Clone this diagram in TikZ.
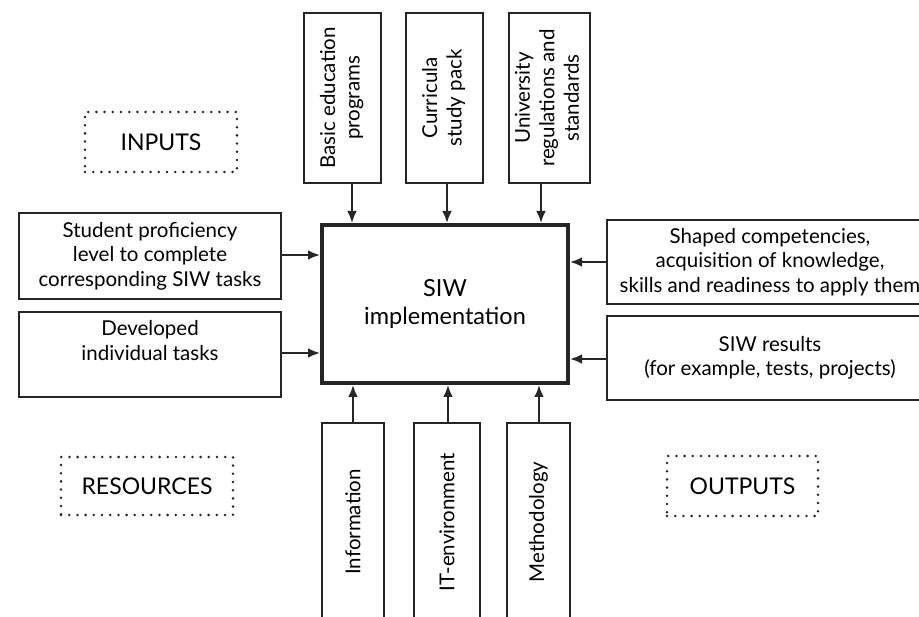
\documentclass[tikz,border=0pt]{standalone}
\usepackage{fontspec}
\setmainfont{Lato}
\usetikzlibrary{arrows.meta}
\begin{document}
\begin{tikzpicture}[x=1pt,y=-1pt,
  box/.style={draw=black!85,line width=2.7pt,inner sep=0pt,align=center,font=\fontsize{20.5}{24.5}\selectfont},
  mainbox/.style={draw=black!85,line width=4pt,inner sep=0pt,align=center,font=\fontsize{23.5}{28}\selectfont},
  dotbox/.style={draw=black!85,line width=2.8pt,line cap=round,dash pattern=on 0pt off 8.2pt,inner sep=0pt,font=\fontsize{23}{26}\selectfont},
  arr/.style={draw=black!85,line width=2.6pt,-{Latex[length=12pt,width=10pt]}}]
\useasboundingbox (0,0) rectangle (919,617);
\clip (0,0) rectangle (919,617);
% main
\node[mainbox,minimum width=246pt,minimum height=158pt] (main) at (445,304) {SIW\\implementation};
% top boxes
\node[box,minimum width=77pt,minimum height=170pt] (t1) at (342.5,98) {\rotatebox{90}{\begin{tabular}{@{}c@{}}Basic education\\programs\end{tabular}}};
\node[box,minimum width=77pt,minimum height=170pt] (t2) at (444.5,98) {\rotatebox{90}{\begin{tabular}{@{}c@{}}Curricula\\study pack\end{tabular}}};
\node[box,minimum width=81pt,minimum height=170pt] (t3) at (549.5,98) {\rotatebox{90}{\begin{tabular}{@{}c@{}}University\\regulations and\\standards\end{tabular}}};
% left boxes
\node[box,minimum width=262pt,minimum height=86pt] (l1) at (150,256) {Student proficiency\\level to complete\\corresponding SIW tasks};
\node[box,minimum width=262pt,minimum height=85pt] (l2) at (150,354.5) {Developed\\individual tasks\\[4pt]};
% right boxes
\node[box,minimum width=326pt,minimum height=84pt] (r1) at (770,262) {Shaped competencies,\\acquisition of knowledge,\\skills and readiness to apply them};
\node[box,minimum width=326pt,minimum height=84pt] (r2) at (770,358) {SIW results\\(for example, tests, projects)};
% bottom boxes
\node[box,minimum width=62pt,minimum height=198pt] (b1) at (353,522) {\rotatebox{90}{Information}};
\node[box,minimum width=66pt,minimum height=198pt] (b2) at (447,522) {\rotatebox{90}{IT-environment}};
\node[box,minimum width=63pt,minimum height=198pt] (b3) at (538.5,522) {\rotatebox{90}{Methodology}};
% dotted labels
\node[dotbox,minimum width=152pt,minimum height=60pt] (in) at (161,142) {INPUTS};
\node[dotbox,minimum width=172pt,minimum height=58pt] (res) at (147,486) {RESOURCES};
\node[dotbox,minimum width=151pt,minimum height=60pt] (out) at (742.5,486) {OUTPUTS};
% arrow positions
\coordinate (xa) at (352,0);
\coordinate (xb) at (447,0);
\coordinate (xc) at (541,0);
\coordinate (ya) at (0,255);
\coordinate (yb) at (0,353);
\coordinate (yc) at (0,262);
\coordinate (yd) at (0,359);
\coordinate (xd) at (353,0);
\coordinate (xe) at (448,0);
\coordinate (xf) at (539,0);
\draw[arr] (t1.south -| xa) -- (main.north -| xa);
\draw[arr] (t2.south -| xb) -- (main.north -| xb);
\draw[arr] (t3.south -| xc) -- (main.north -| xc);
\draw[arr] (l1.east |- ya) -- (main.west |- ya);
\draw[arr] (l2.east |- yb) -- (main.west |- yb);
\draw[arr] (r1.west |- yc) -- (main.east |- yc);
\draw[arr] (r2.west |- yd) -- (main.east |- yd);
\draw[arr] (b1.north -| xd) -- (main.south -| xd);
\draw[arr] (b2.north -| xe) -- (main.south -| xe);
\draw[arr] (b3.north -| xf) -- (main.south -| xf);
\end{tikzpicture}
\end{document}
